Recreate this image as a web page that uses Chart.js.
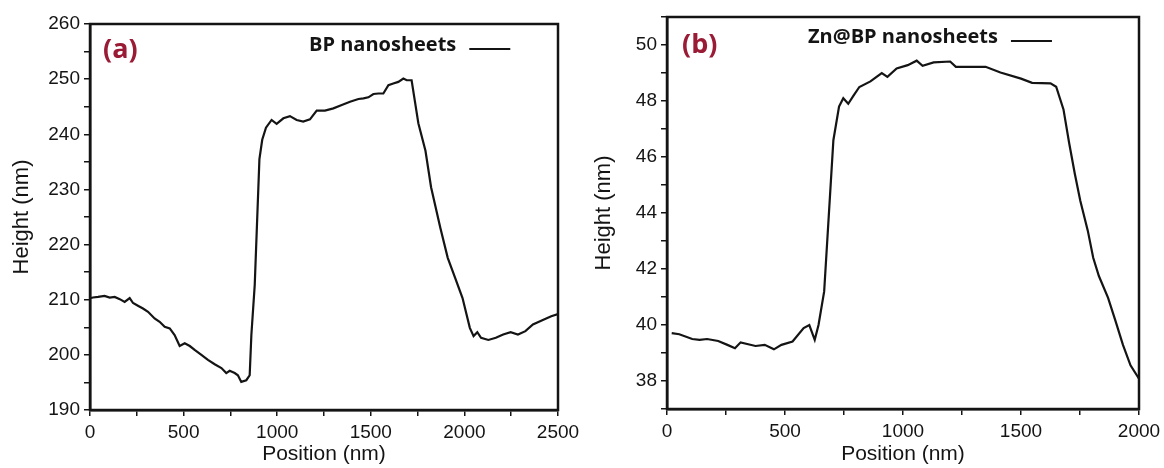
<!DOCTYPE html>
<html>
<head>
<meta charset="utf-8">
<script src="https://cdn.jsdelivr.net/npm/chart.js@4.4.1/dist/chart.umd.min.js"></script>
<style>
  html, body { margin: 0; padding: 0; background: #fff; }
  #wrap { position: relative; width: 1164px; height: 468px; }
  canvas { position: absolute; top: 0; }
  #chart-a { left: 0; }
  #chart-b { left: 580px; }
</style>
</head>
<body>
<div id="wrap">
  <canvas id="chart-a" width="580" height="468"></canvas>
  <canvas id="chart-b" width="584" height="468"></canvas>
</div>
<script>
// panel (a): BP nanosheets
const posA = [5, 16, 43, 78, 105, 132, 159, 185, 212, 230, 256, 283, 310, 345, 372, 399, 426, 452, 479, 506,
  533, 559, 595, 630, 666, 702, 728, 746, 773, 790, 808, 835, 853, 862, 880, 905, 920, 940, 970, 997,
  1033, 1068, 1104, 1139, 1175, 1211, 1255, 1300, 1345, 1389, 1434, 1461, 1487, 1514, 1541, 1567, 1594, 1620, 1647, 1674,
  1692, 1718, 1754, 1792, 1822, 1871, 1911, 1950, 1990, 2029, 2049, 2069, 2089, 2128, 2168, 2207, 2247, 2286, 2326, 2366,
  2425, 2464, 2500];
const heightA = [210.3, 210.4, 210.5, 210.7, 210.4, 210.5, 210.1, 209.6, 210.3, 209.4, 208.9, 208.4, 207.8, 206.6, 206.0, 205.1, 204.8, 203.6, 201.6, 202.1,
  201.6, 200.9, 200.0, 199.1, 198.3, 197.6, 196.7, 197.1, 196.7, 196.3, 195.1, 195.4, 196.3, 203.6, 212.7, 235.5, 239.0, 241.2, 242.6, 241.9,
  242.9, 243.3, 242.6, 242.3, 242.7, 244.3, 244.3, 244.7, 245.3, 245.9, 246.4, 246.5, 246.7, 247.3, 247.4, 247.4, 248.9, 249.2, 249.5, 250.1,
  249.8, 249.8, 242.0, 237.0, 230.4, 223.1, 217.6, 214.0, 210.3, 204.9, 203.4, 204.1, 203.1, 202.7, 203.1, 203.7, 204.1, 203.7, 204.3, 205.5,
  206.4, 207.0, 207.4];

// panel (b): Zn@BP nanosheets
const posB = [20, 52, 107, 138, 170, 217, 256, 288, 312, 375, 414, 453, 485, 532, 579, 603, 626, 642, 666, 705,
  729, 747, 768, 791, 815, 862, 910, 934, 973, 1020, 1058, 1083, 1130, 1200, 1224, 1287, 1350, 1413, 1500, 1547,
  1625, 1649, 1680, 1704, 1728, 1751, 1783, 1806, 1830, 1869, 1901, 1932, 1964, 2000];
const heightB = [39.71, 39.67, 39.5, 39.47, 39.5, 39.43, 39.29, 39.17, 39.38, 39.25, 39.29, 39.13, 39.29, 39.41,
  39.89, 40.0, 39.47, 40.0, 41.2, 46.6, 47.8, 48.1, 47.9, 48.2, 48.5, 48.7, 49.0, 48.86, 49.16, 49.28, 49.44, 49.26,
  49.38, 49.41, 49.22, 49.22, 49.22, 49.02, 48.8, 48.65, 48.63, 48.51, 47.7, 46.5, 45.4, 44.45, 43.37, 42.4, 41.75,
  40.97, 40.13, 39.29, 38.56, 38.08];

// axis ranges: [min, max, minor step, labelled step]
const xAxisA = [0, 2500, 250, 500];
const yAxisA = [190, 260, 5, 10];
const xAxisB = [0, 2000, 250, 500];
const yAxisB = [37, 51, 1, 2];

const INK = "#141414";
const TICK_FONT = { family: "'Liberation Sans', Arial, sans-serif", size: 19 };
const X_TITLE_FONT = { family: "'Liberation Sans', Arial, sans-serif", size: 21 };
const Y_TITLE_FONT = { family: "'Liberation Sans', Arial, sans-serif", size: 22 };

const framePlugin = {
  id: "frame",
  afterDraw(chart, args, o) {
    const { ctx, chartArea: a } = chart;
    ctx.save();
    ctx.strokeStyle = INK;
    ctx.lineWidth = 2.5;
    ctx.strokeRect(a.left, a.top, a.right - a.left, a.bottom - a.top);

    ctx.textBaseline = "middle";
    ctx.fillStyle = "#9a1b35";
    ctx.font = "bold 27px 'Open Sans', sans-serif";
    ctx.fillText(o.tag, o.tagX, o.tagY);

    ctx.fillStyle = INK;
    ctx.font = "bold 20px 'Open Sans', sans-serif";
    ctx.fillText(o.label, o.legX, o.legY);
    const w = ctx.measureText(o.label).width;
    ctx.lineWidth = 2;
    ctx.beginPath();
    ctx.moveTo(o.legX + w + 13, o.legY + 4);
    ctx.lineTo(o.legX + w + 54, o.legY + 4);
    ctx.stroke();
    ctx.restore();
  },
};

function scales(xr, yr, yWidth, xHeight, yTitlePad) {
  const tickGrid = { drawOnChartArea: false, drawTicks: true, tickLength: 6, color: INK, lineWidth: 1.5 };
  return {
    x: {
      type: "linear",
      min: xr[0],
      max: xr[1],
      ticks: {
        stepSize: xr[2],
        autoSkip: false,
        maxRotation: 0,
        padding: 5,
        color: INK,
        font: TICK_FONT,
        callback: v => (v % xr[3] === 0 ? v : ""),
      },
      grid: tickGrid,
      border: { display: true, color: INK, width: 2.5 },
      title: { display: true, text: "Position (nm)", color: INK, font: X_TITLE_FONT, padding: { top: 0, bottom: 1 } },
      afterFit: s => {
        s.height = xHeight;
        s.paddingLeft = 0;
        s.paddingRight = 0;
      },
    },
    y: {
      min: yr[0],
      max: yr[1],
      ticks: {
        stepSize: yr[2],
        autoSkip: false,
        padding: 4,
        color: INK,
        font: TICK_FONT,
        callback: v => (v % yr[3] === 0 ? v : ""),
      },
      grid: tickGrid,
      border: { display: true, color: INK, width: 2.5 },
      title: { display: true, text: "Height (nm)", color: INK, font: Y_TITLE_FONT, padding: { top: yTitlePad, bottom: 0 } },
      afterFit: s => {
        s.width = yWidth;
        s.paddingTop = 0;
        s.paddingBottom = 0;
      },
    },
  };
}

function make(id, xs, ys, xr, yr, layout, frame) {
  const canvas = document.getElementById(id);
  return new Chart(canvas.getContext("2d"), {
    type: "line",
    data: {
      datasets: [{
        label: frame.label,
        data: xs.map((x, i) => ({ x, y: ys[i] })),
        borderColor: INK,
        borderWidth: 2.2,
        pointRadius: 0,
        tension: 0,
        fill: false,
      }],
    },
    options: {
      responsive: false,
      animation: false,
      devicePixelRatio: 1,
      layout: { padding: layout.padding },
      plugins: {
        legend: { display: false },
        tooltip: { enabled: false },
        frame,
      },
      scales: scales(xr, yr, layout.yWidth, layout.xHeight, layout.yTitlePad),
    },
    plugins: [framePlugin],
  });
}

make("chart-a", posA, heightA, xAxisA, yAxisA,
  { padding: { top: 24, right: 22, bottom: 0, left: 0 }, yWidth: 90, xHeight: 58, yTitlePad: 9 },
  { tag: "(a)", tagX: 103, tagY: 50, label: "BP nanosheets", legX: 309, legY: 45 });

make("chart-b", posB, heightB, xAxisB, yAxisB,
  { padding: { top: 17, right: 25, bottom: 0, left: 0 }, yWidth: 87, xHeight: 59, yTitlePad: 11 },
  { tag: "(b)", tagX: 102, tagY: 45, label: "Zn@BP nanosheets", legX: 228, legY: 37 });
</script>
</body>
</html>
